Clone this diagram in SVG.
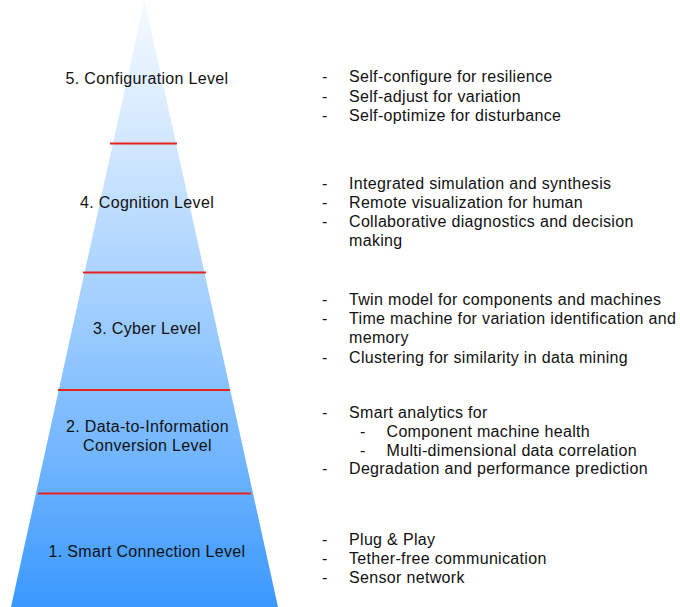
<svg xmlns="http://www.w3.org/2000/svg" width="680" height="607" viewBox="0 0 680 607">
<style>
text{font-family:"Liberation Sans",Arial,Helvetica,sans-serif;font-size:16px;letter-spacing:0.33px;fill:#111}
.lvl{text-anchor:middle}
.sep{stroke:#e8231a;stroke-width:2}
</style>
<defs>
<linearGradient id="pg" x1="0" y1="0" x2="0" y2="607" gradientUnits="userSpaceOnUse">
<stop offset="0" stop-color="#f6faff"/>
<stop offset="0.25" stop-color="#cfe6ff"/>
<stop offset="0.5" stop-color="#a2cfff"/>
<stop offset="0.75" stop-color="#72b6ff"/>
<stop offset="1" stop-color="#3a98ff"/>
</linearGradient>
</defs>
<g id="pyramid">
<polygon points="144.5,0 11,607 278,607" fill="url(#pg)"/>
</g>
<g id="dividers">
<line class="sep" x1="110" y1="143.5" x2="177" y2="143.5"/>
<line class="sep" x1="83" y1="272.5" x2="206" y2="272.5"/>
<line class="sep" x1="58" y1="390" x2="230" y2="390"/>
<line class="sep" x1="38" y1="493.5" x2="251" y2="493.5"/>
</g>
<g id="level5">
<text class="lvl" x="147" y="84">5. Configuration Level</text>
<text x="322" y="82">-</text><text x="349" y="82">Self-configure for resilience</text>
<text x="322" y="101.5">-</text><text x="349" y="101.5">Self-adjust for variation</text>
<text x="322" y="121">-</text><text x="349" y="121">Self-optimize for disturbance</text>
</g>
<g id="level4">
<text class="lvl" x="147" y="208">4. Cognition Level</text>
<text x="322" y="189">-</text><text x="349" y="189">Integrated simulation and synthesis</text>
<text x="322" y="208">-</text><text x="349" y="208">Remote visualization for human</text>
<text x="322" y="226.5">-</text><text x="349" y="226.5">Collaborative diagnostics and decision</text>
<text x="349" y="245.5">making</text>
</g>
<g id="level3">
<text class="lvl" x="147" y="334">3. Cyber Level</text>
<text x="322" y="305">-</text><text x="349" y="305">Twin model for components and machines</text>
<text x="322" y="324">-</text><text x="349" y="324">Time machine for variation identification and</text>
<text x="349" y="343">memory</text>
<text x="322" y="362.5">-</text><text x="349" y="362.5">Clustering for similarity in data mining</text>
</g>
<g id="level2">
<text class="lvl" x="147.5" y="432">2. Data-to-Information</text>
<text class="lvl" x="147.5" y="450.5">Conversion Level</text>
<text x="322" y="418">-</text><text x="349" y="418">Smart analytics for</text>
<text x="360" y="437">-</text><text x="386.5" y="437">Component machine health</text>
<text x="360" y="455.5">-</text><text x="386.5" y="455.5">Multi-dimensional data correlation</text>
<text x="322" y="474">-</text><text x="349" y="474">Degradation and performance prediction</text>
</g>
<g id="level1">
<text class="lvl" x="147" y="557">1. Smart Connection Level</text>
<text x="322" y="545">-</text><text x="349" y="545">Plug &amp; Play</text>
<text x="322" y="564">-</text><text x="349" y="564">Tether-free communication</text>
<text x="322" y="583">-</text><text x="349" y="583">Sensor network</text>
</g>
</svg>
